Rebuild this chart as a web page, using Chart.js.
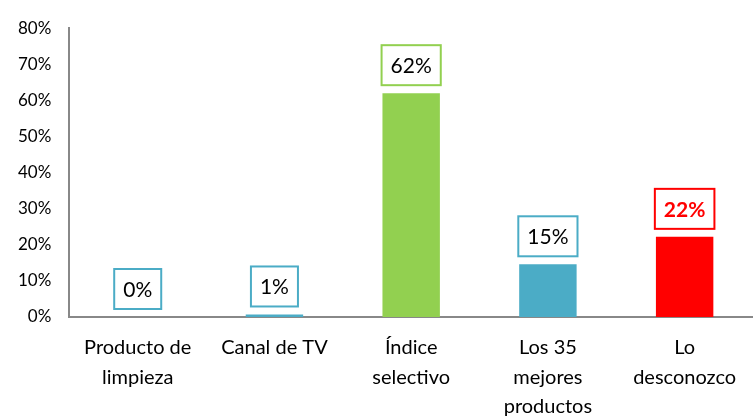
<!DOCTYPE html>
<html>
<head>
<meta charset="utf-8">
<script src="https://cdn.jsdelivr.net/npm/chart.js@4"></script>
<style>
  html, body { margin: 0; padding: 0; background: #fff; }
  #wrap { width: 753px; height: 416px; }
</style>
</head>
<body>
<div id="wrap"><canvas id="chart"></canvas></div>
<script>
// data
const categories = [
    ['Producto de', 'limpieza'],
    'Canal de TV',
    ['Índice', 'selectivo'],
    ['Los 35', 'mejores', 'productos'],
    ['Lo', 'desconozco']
];
const values = [0, 0.7, 62, 14.6, 22.2];
const valueLabels = ['0%', '1%', '62%', '15%', '22%'];
const barColors = ['#4BACC6', '#4BACC6', '#92D050', '#4BACC6', '#FF0000'];
const yTicks = [0, 10, 20, 30, 40, 50, 60, 70, 80];

const FONT = 'Lato, "Open Sans", sans-serif';

// boxed value labels above each bar
const boxLabels = {
    id: 'boxLabels',
    afterDatasetsDraw(chart) {
        const ctx = chart.ctx;
        const meta = chart.getDatasetMeta(0);
        meta.data.forEach((bar, i) => {
            const red = barColors[i] === '#FF0000';
            ctx.save();
            ctx.font = (red ? 'bold ' : '') + '21px ' + FONT;
            const w = ctx.measureText(valueLabels[i]).width + 18;
            const h = 40;
            const cx = bar.x;
            const bottom = bar.y - 8;
            ctx.fillStyle = '#fff';
            ctx.fillRect(cx - w / 2, bottom - h, w, h);
            ctx.strokeStyle = barColors[i];
            ctx.lineWidth = 2;
            ctx.strokeRect(cx - w / 2, bottom - h, w, h);
            ctx.fillStyle = red ? '#FF0000' : '#000';
            ctx.textAlign = 'center';
            ctx.textBaseline = 'middle';
            ctx.fillText(valueLabels[i], cx, bottom - h / 2 + 1);
            ctx.restore();
        });
    }
};

new Chart(document.getElementById('chart'), {
    type: 'bar',
    data: {
        labels: categories,
        datasets: [{
            data: values,
            backgroundColor: barColors,
            borderWidth: 0,
            categoryPercentage: 1,
            barPercentage: 0.42
        }]
    },
    options: {
        responsive: true,
        maintainAspectRatio: false,
        animation: false,
        layout: { padding: { top: 4, right: 0, left: 0, bottom: 0 } },
        plugins: {
            legend: { display: false },
            tooltip: { enabled: false }
        },
        scales: {
            x: {
                afterFit(axis) {
                    // last label runs off the bottom, like the original
                    axis.height = 99;
                },
                grid: { display: false, drawTicks: false },
                border: { color: '#888', width: 2 },
                ticks: {
                    color: '#000',
                    font: { family: FONT, size: 20, lineHeight: 1.48 },
                    padding: 16,
                    maxRotation: 0,
                    autoSkip: false
                }
            },
            y: {
                min: 0,
                max: 80,
                afterBuildTicks(axis) {
                    axis.ticks = yTicks.map(v => ({ value: v }));
                },
                grid: { display: false, drawTicks: false },
                border: { color: '#888', width: 2 },
                ticks: {
                    color: '#000',
                    font: { family: FONT, size: 17 },
                    padding: 18,
                    callback: v => v + '%'
                }
            }
        }
    },
    plugins: [boxLabels]
});
</script>
</body>
</html>
